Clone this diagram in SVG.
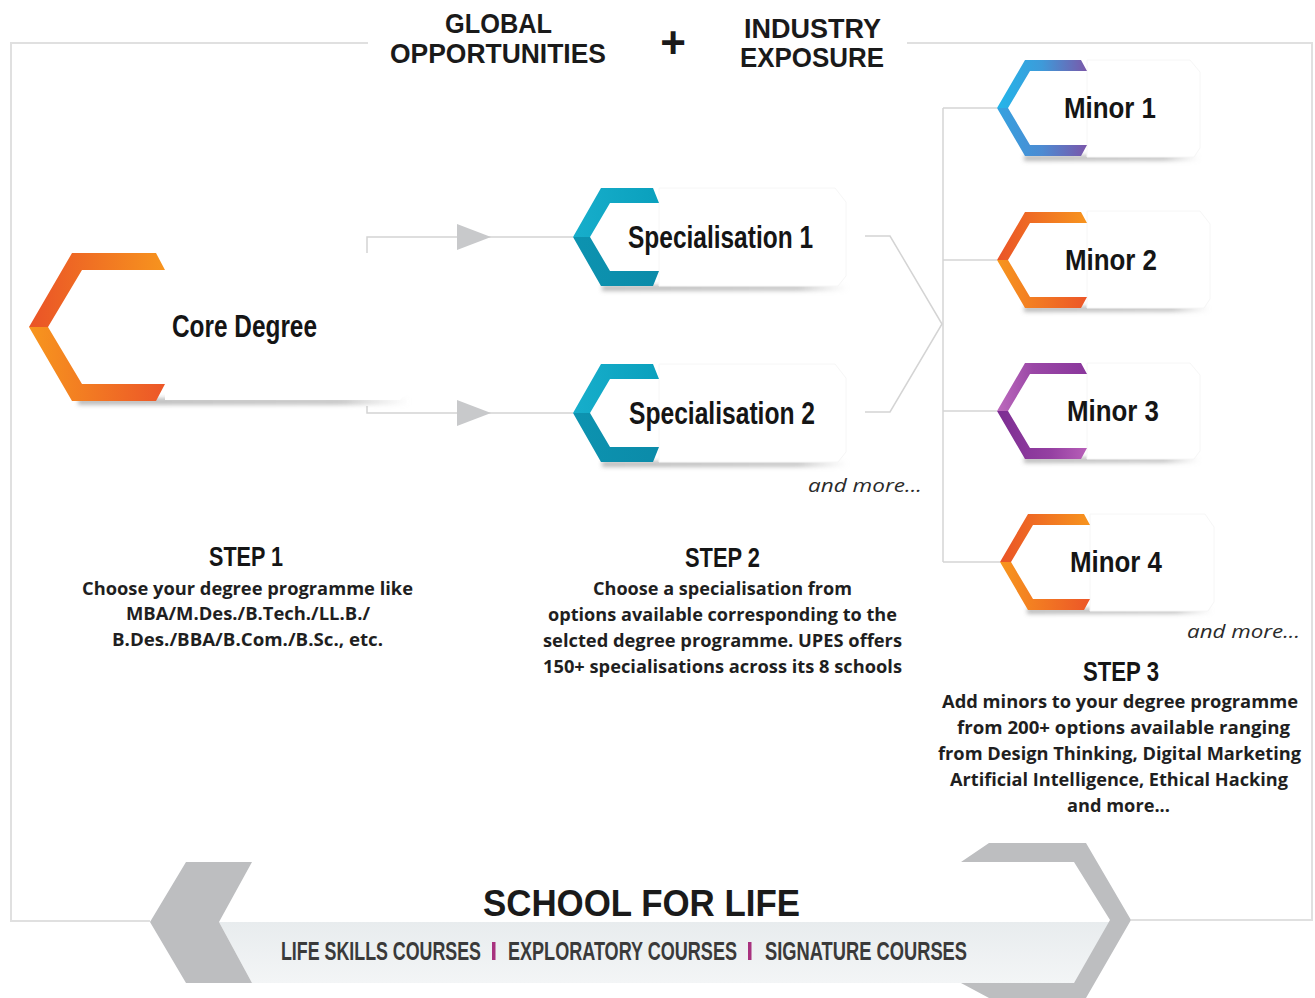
<svg xmlns="http://www.w3.org/2000/svg" width="1315" height="998" viewBox="0 0 1315 998">
<style>
.frame{fill:none;stroke:#e0e0e0;stroke-width:2}
.conn{fill:none;stroke:#d4d4d4;stroke-width:1.5}
.arrow{fill:#c8c9cb}
.card{fill:#fff;stroke:#f6f6f6;stroke-width:1}
.node{font-family:"Liberation Sans",Arial,sans-serif;font-weight:bold;fill:#151515}
.head{font-family:"Liberation Sans",Arial,sans-serif;font-weight:bold;fill:#1a1a1a}
.step{font-family:"Liberation Sans",Arial,sans-serif;font-weight:bold;fill:#151515;font-size:28px}
.body{font-family:"Open Sans","Liberation Sans",sans-serif;font-weight:bold;fill:#1f1f1f;font-size:17px}
.more{font-family:"Open Sans","Liberation Sans",sans-serif;font-style:italic;fill:#2a2a2a;font-size:19px}
.sub{font-family:"Liberation Sans",Arial,sans-serif;font-weight:bold;fill:#3a3a3a;font-size:18px}
.sep{fill:#a8327f}
.chev{fill:#bdbec0}
</style>
<defs>
<linearGradient id="gOrUp" x1="0" y1="0" x2="1" y2="0"><stop offset="0" stop-color="#ea5327"/><stop offset="1" stop-color="#f7941e"/></linearGradient>
<linearGradient id="gOrDn" x1="0" y1="0" x2="1" y2="0"><stop offset="0" stop-color="#f7961e"/><stop offset="1" stop-color="#ec5628"/></linearGradient>
<linearGradient id="gTeUp" x1="0" y1="0" x2="1" y2="0"><stop offset="0" stop-color="#17aecb"/><stop offset="1" stop-color="#0aa0bd"/></linearGradient>
<linearGradient id="gTeDn" x1="0" y1="0" x2="1" y2="0"><stop offset="0" stop-color="#0d93b0"/><stop offset="1" stop-color="#0b8ba9"/></linearGradient>
<linearGradient id="gBlUp" x1="0" y1="0" x2="1" y2="0"><stop offset="0" stop-color="#22b6ea"/><stop offset="0.5" stop-color="#3e9ad9"/><stop offset="1" stop-color="#7a58aa"/></linearGradient>
<linearGradient id="gBlDn" x1="0" y1="0" x2="1" y2="0"><stop offset="0" stop-color="#34a2e0"/><stop offset="0.5" stop-color="#4d8bd2"/><stop offset="1" stop-color="#7a56aa"/></linearGradient>
<linearGradient id="gPuUp" x1="0" y1="0" x2="1" y2="0"><stop offset="0" stop-color="#bd6bbd"/><stop offset="0.4" stop-color="#9a47a6"/><stop offset="1" stop-color="#8a379c"/></linearGradient>
<linearGradient id="gPuDn" x1="0" y1="0" x2="1" y2="0"><stop offset="0" stop-color="#7c2d92"/><stop offset="0.6" stop-color="#9540a2"/><stop offset="1" stop-color="#b75fb8"/></linearGradient>
<linearGradient id="gShadow" x1="0" y1="0" x2="1" y2="0"><stop offset="0" stop-color="#8e8e8e" stop-opacity="0.6"/><stop offset="0.8" stop-color="#9a9a9a" stop-opacity="0.55"/><stop offset="1" stop-color="#bbbbbb" stop-opacity="0"/></linearGradient>
<linearGradient id="gBand" x1="0" y1="0" x2="0" y2="1"><stop offset="0" stop-color="#e8ecee"/><stop offset="1" stop-color="#f3f5f6"/></linearGradient>
<filter id="blur" x="-10%" y="-100%" width="120%" height="300%"><feGaussianBlur stdDeviation="2.2"/></filter>
<path id="coreUp" d="M0,0 L43,-74 L127,-74 L136,-57 L53,-57 L19,0 Z"/>
<path id="coreDn" d="M0,0 L19,0 L53,57 L136,57 L127,74 L43,74 Z"/>
<path id="specUp" d="M0,0 L28,-49 L80,-49 L86,-34 L37,-34 L17,0 Z"/>
<path id="specDn" d="M0,0 L17,0 L37,34 L86,34 L80,49 L28,49 Z"/>
<path id="minUp" d="M0,0 L28,-48 L84,-48 L90,-37 L33,-37 L11,0 Z"/>
<path id="minDn" d="M0,0 L11,0 L33,37 L90,37 L84,48 L28,48 Z"/>
</defs>

<rect width="1315" height="998" fill="#fff"/>

<g id="frame">
<path class="frame" d="M368,43 H11 V921 H150"/>
<path class="frame" d="M907,43 H1312 V920 H1131"/>
</g>

<g id="header">
<text class="head" x="445" y="33" font-size="27" textLength="107" lengthAdjust="spacingAndGlyphs">GLOBAL</text>
<text class="head" x="390" y="63" font-size="27" textLength="216" lengthAdjust="spacingAndGlyphs">OPPORTUNITIES</text>
<text class="head" x="673" y="58" font-size="44" text-anchor="middle">+</text>
<text class="head" x="744" y="38" font-size="27" textLength="137" lengthAdjust="spacingAndGlyphs">INDUSTRY</text>
<text class="head" x="740" y="67" font-size="27" textLength="144" lengthAdjust="spacingAndGlyphs">EXPOSURE</text>
</g>

<g id="connectors">
<path class="conn" d="M367,265 V237 H573"/>
<path class="conn" d="M367,406 V413 H573"/>
<polygon class="arrow" points="457,224 491,237 457,250"/>
<polygon class="arrow" points="457,400 491,413 457,426"/>
<path class="conn" d="M865,236 H890 L942,324 L890,412 H865"/>
<path class="conn" d="M943,108 V562"/>
<path class="conn" d="M943,108 H997"/>
<path class="conn" d="M943,260 H997"/>
<path class="conn" d="M943,411 H997"/>
<path class="conn" d="M943,562 H1000"/>
</g>

<g id="core">
<rect x="78" y="398" width="332" height="7" fill="url(#gShadow)" filter="url(#blur)"/>
<polygon points="165,253 395,253 410,275 410,388 400,400 165,400" fill="#fff"/>
<g transform="translate(29,327)">
<use href="#coreUp" fill="url(#gOrUp)"/>
<use href="#coreDn" fill="url(#gOrDn)"/>
</g>
<text class="node" x="172" y="337" font-size="31" textLength="145" lengthAdjust="spacingAndGlyphs">Core Degree</text>
</g>

<g id="spec1">
<rect x="602" y="285" width="246" height="6" fill="url(#gShadow)" filter="url(#blur)"/>
<polygon class="card" points="659,188 835,188 846,202 846,276 838,286 659,286"/>
<g transform="translate(573,237)">
<use href="#specUp" fill="url(#gTeUp)"/>
<use href="#specDn" fill="url(#gTeDn)"/>
</g>
<text class="node" x="628" y="248" font-size="31" textLength="185" lengthAdjust="spacingAndGlyphs">Specialisation 1</text>
</g>

<g id="spec2">
<rect x="602" y="461" width="246" height="6" fill="url(#gShadow)" filter="url(#blur)"/>
<polygon class="card" points="659,364 835,364 846,378 846,452 838,462 659,462"/>
<g transform="translate(573,413)">
<use href="#specUp" fill="url(#gTeUp)"/>
<use href="#specDn" fill="url(#gTeDn)"/>
</g>
<text class="node" x="629" y="424" font-size="31" textLength="186" lengthAdjust="spacingAndGlyphs">Specialisation 2</text>
<text class="more" x="808" y="492" textLength="114" lengthAdjust="spacingAndGlyphs">and more...</text>
</g>

<g id="minor1">
<rect x="1024" y="155" width="176" height="6" fill="url(#gShadow)" filter="url(#blur)"/>
<polygon class="card" points="1087,60 1190,60 1200,72 1200,148 1194,157 1087,157"/>
<g transform="translate(997,108)">
<use href="#minUp" fill="url(#gBlUp)"/>
<use href="#minDn" fill="url(#gBlDn)"/>
</g>
<text class="node" x="1064" y="118" font-size="29" textLength="92" lengthAdjust="spacingAndGlyphs">Minor 1</text>
</g>

<g id="minor2">
<rect x="1024" y="306" width="186" height="6" fill="url(#gShadow)" filter="url(#blur)"/>
<polygon class="card" points="1087,211 1200,211 1210,224 1210,299 1204,308 1087,308"/>
<g transform="translate(997,260)">
<use href="#minUp" fill="url(#gOrUp)"/>
<use href="#minDn" fill="url(#gOrDn)"/>
</g>
<text class="node" x="1065" y="270" font-size="29" textLength="92" lengthAdjust="spacingAndGlyphs">Minor 2</text>
</g>

<g id="minor3">
<rect x="1024" y="457" width="176" height="6" fill="url(#gShadow)" filter="url(#blur)"/>
<polygon class="card" points="1087,363 1190,363 1200,375 1200,451 1194,459 1087,459"/>
<g transform="translate(997,411)">
<use href="#minUp" fill="url(#gPuUp)"/>
<use href="#minDn" fill="url(#gPuDn)"/>
</g>
<text class="node" x="1067" y="421" font-size="29" textLength="92" lengthAdjust="spacingAndGlyphs">Minor 3</text>
</g>

<g id="minor4">
<rect x="1027" y="608" width="186" height="6" fill="url(#gShadow)" filter="url(#blur)"/>
<polygon class="card" points="1090,514 1205,514 1214,527 1214,602 1208,611 1090,611"/>
<g transform="translate(1000,562)">
<use href="#minUp" fill="url(#gOrUp)"/>
<use href="#minDn" fill="url(#gOrDn)"/>
</g>
<text class="node" x="1070" y="572" font-size="29" textLength="92" lengthAdjust="spacingAndGlyphs">Minor 4</text>
<text class="more" x="1187" y="638" textLength="113" lengthAdjust="spacingAndGlyphs">and more...</text>
</g>

<g id="step1">
<text class="step" x="209" y="566" textLength="74" lengthAdjust="spacingAndGlyphs">STEP 1</text>
<text class="body" x="82" y="595" textLength="331" lengthAdjust="spacingAndGlyphs">Choose your degree programme like</text>
<text class="body" x="126" y="620" textLength="244" lengthAdjust="spacingAndGlyphs">MBA/M.Des./B.Tech./LL.B./</text>
<text class="body" x="112" y="646" textLength="271" lengthAdjust="spacingAndGlyphs">B.Des./BBA/B.Com./B.Sc., etc.</text>
</g>

<g id="step2">
<text class="step" x="685" y="567" textLength="75" lengthAdjust="spacingAndGlyphs">STEP 2</text>
<text class="body" x="593" y="595" textLength="259" lengthAdjust="spacingAndGlyphs">Choose a specialisation from</text>
<text class="body" x="548" y="621" textLength="349" lengthAdjust="spacingAndGlyphs">options available corresponding to the</text>
<text class="body" x="543" y="647" textLength="359" lengthAdjust="spacingAndGlyphs">selcted degree programme. UPES offers</text>
<text class="body" x="543" y="673" textLength="359" lengthAdjust="spacingAndGlyphs">150+ specialisations across its 8 schools</text>
</g>

<g id="step3">
<text class="step" x="1083" y="681" textLength="76" lengthAdjust="spacingAndGlyphs">STEP 3</text>
<text class="body" x="942" y="708" textLength="356" lengthAdjust="spacingAndGlyphs">Add minors to your degree programme</text>
<text class="body" x="957" y="734" textLength="333" lengthAdjust="spacingAndGlyphs">from 200+ options available ranging</text>
<text class="body" x="938" y="760" textLength="363" lengthAdjust="spacingAndGlyphs">from Design Thinking, Digital Marketing</text>
<text class="body" x="950" y="786" textLength="338" lengthAdjust="spacingAndGlyphs">Artificial Intelligence, Ethical Hacking</text>
<text class="body" x="1067" y="812" textLength="103" lengthAdjust="spacingAndGlyphs">and more...</text>
</g>

<g id="school-for-life">
<polygon points="219,922 1110,922 1074,983 252,983" fill="url(#gBand)"/>
<polygon class="chev" points="186,862 252,862 219,922 252,983 186,983 150,922"/>
<polygon class="chev" points="989,843 1086,843 1131,920 1086,998 989,998 961,983 1074,983 1110,920 1074,862 961,862"/>
<text class="head" x="483" y="916" font-size="36" textLength="317" lengthAdjust="spacingAndGlyphs">SCHOOL FOR LIFE</text>
<rect class="sep" x="492" y="942" width="3.5" height="18"/>
<rect class="sep" x="748" y="942" width="3.5" height="18"/>
<g transform="translate(0,960) scale(1,1.42)">
<text class="sub" x="281" y="0" textLength="200" lengthAdjust="spacingAndGlyphs">LIFE SKILLS COURSES</text>
<text class="sub" x="508" y="0" textLength="229" lengthAdjust="spacingAndGlyphs">EXPLORATORY COURSES</text>
<text class="sub" x="765" y="0" textLength="202" lengthAdjust="spacingAndGlyphs">SIGNATURE COURSES</text>
</g>
</g>
</svg>
